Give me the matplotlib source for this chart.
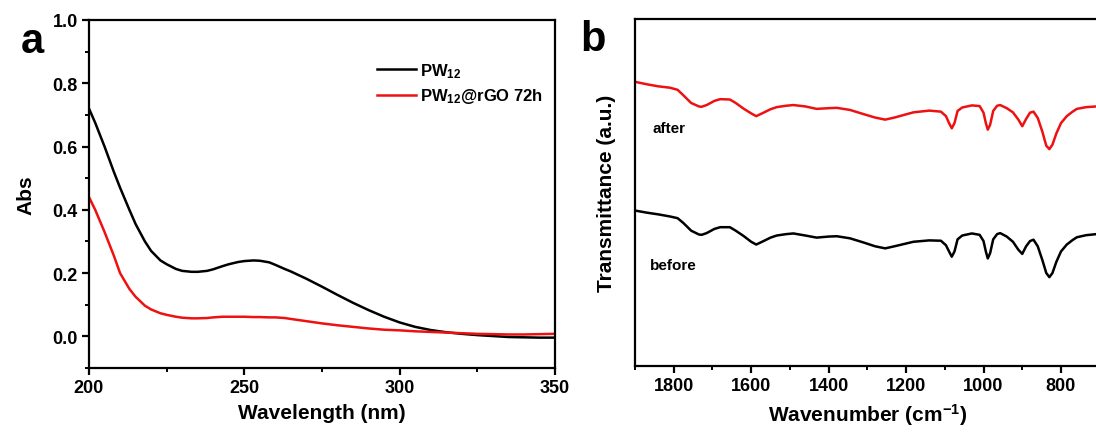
import matplotlib
matplotlib.use("Agg")
import matplotlib.pyplot as plt
from matplotlib.ticker import MultipleLocator

plt.rcParams['font.family'] = ['Liberation Sans', 'DejaVu Sans']
plt.rcParams['font.weight'] = 'bold'
plt.rcParams['mathtext.fontset'] = 'custom'
plt.rcParams['mathtext.rm'] = 'Liberation Sans:bold'
plt.rcParams['mathtext.bf'] = 'Liberation Sans:bold'
plt.rcParams['mathtext.it'] = 'Liberation Sans:bold'

# ---------- Panel a: UV-vis ----------
uv_wavelength = [200, 202, 205, 208, 210, 213, 215, 218, 220, 223, 225, 228, 230, 233, 235, 238,
                 240, 243, 245, 248, 250, 253, 255, 258, 260, 263, 265, 270, 275, 280, 285, 290,
                 295, 300, 305, 310, 315, 320, 325, 330, 335, 340, 345, 350]
abs_pw12 = [0.72, 0.675, 0.60, 0.52, 0.47, 0.40, 0.355, 0.30, 0.27, 0.24, 0.228, 0.213, 0.207,
            0.204, 0.204, 0.207, 0.212, 0.222, 0.228, 0.235, 0.238, 0.240, 0.239, 0.234, 0.226,
            0.213, 0.205, 0.182, 0.157, 0.131, 0.106, 0.083, 0.062, 0.044, 0.030, 0.020, 0.013,
            0.008, 0.004, 0.001, -0.002, -0.003, -0.004, -0.004]
abs_rgo = [0.44, 0.40, 0.33, 0.255, 0.20, 0.15, 0.125, 0.097, 0.085, 0.073, 0.068, 0.062, 0.059,
           0.057, 0.057, 0.058, 0.060, 0.062, 0.062, 0.062, 0.062, 0.061, 0.061, 0.060, 0.060,
           0.058, 0.055, 0.048, 0.041, 0.035, 0.030, 0.025, 0.021, 0.019, 0.016, 0.014, 0.012,
           0.010, 0.008, 0.007, 0.006, 0.006, 0.007, 0.008]
uv_labels = ['PW$_{12}$', 'PW$_{12}$@rGO 72h']

# ---------- Panel b: FTIR ----------
ir_after_wn = [1900, 1870, 1840, 1810, 1790, 1775, 1755, 1735, 1728, 1715, 1695, 1680, 1655, 1640,
               1620, 1600, 1587, 1570, 1550, 1534, 1510, 1491, 1460, 1431, 1400, 1379, 1345, 1310,
               1280, 1254, 1230, 1181, 1140, 1110, 1097, 1089, 1082, 1075, 1067, 1055, 1030, 1010,
               1000, 994, 989, 983, 975, 965, 957, 940, 924, 910, 900, 890, 880, 871, 860, 848,
               838, 830, 822, 812, 800, 785, 770, 759, 735, 709, 700]
ir_after_t = [81.9, 81.2, 80.6, 80.2, 79.6, 78.0, 75.8, 74.8, 74.7, 75.2, 76.4, 76.9, 76.8, 75.8,
              74.2, 72.8, 72.0, 72.9, 74.0, 74.6, 75.0, 75.2, 74.8, 74.1, 74.3, 74.4, 73.8, 72.6,
              71.6, 71.0, 71.6, 73.1, 73.6, 73.3, 72.0, 70.0, 68.5, 70.0, 73.5, 74.5, 75.1, 74.9,
              73.0, 70.0, 68.1, 69.5, 73.5, 75.0, 75.2, 74.3, 73.1, 71.0, 69.1, 71.2, 73.0, 73.3,
              71.5, 67.5, 63.5, 62.5, 63.8, 67.0, 70.0, 72.0, 73.3, 74.1, 74.6, 74.8, 74.8]
ir_before_wn = ir_after_wn
ir_before_t = [44.8, 44.2, 43.7, 43.1, 42.6, 41.2, 39.0, 37.9, 37.8, 38.3, 39.5, 40.0, 40.0, 39.0,
               37.5, 35.8, 35.0, 35.9, 37.0, 37.6, 38.0, 38.2, 37.6, 37.0, 37.3, 37.4, 36.8, 35.6,
               34.5, 33.9, 34.5, 35.8, 36.2, 36.1, 34.8, 33.0, 31.5, 33.0, 36.5, 37.6, 38.2, 37.8,
               36.0, 33.0, 31.0, 32.5, 36.5, 38.0, 38.3, 37.3, 35.8, 33.5, 32.3, 34.5, 36.0, 36.4,
               34.5, 30.5, 26.8, 25.6, 26.8, 30.0, 33.0, 35.0, 36.3, 37.1, 37.7, 38.0, 38.0]
ir_labels = ['after', 'before']

fig = plt.figure(figsize=(10.96, 4.35), dpi=100)

def style_axes(ax):
    for s in ax.spines.values():
        s.set_linewidth(1.6)
    ax.tick_params(which='major', direction='out', length=5, width=1.6, labelsize=13, pad=3)
    ax.tick_params(which='minor', direction='out', length=3, width=1.4)
    ax.tick_params(top=False, right=False, which='both')
    for lab in ax.get_xticklabels() + ax.get_yticklabels():
        lab.set_fontweight('bold')

# Panel a
axa = fig.add_axes([89/1096, 1-369/435, 466/1096, 348/435])
axa.plot(uv_wavelength, abs_pw12, color='black', lw=1.8, label=uv_labels[0])
axa.plot(uv_wavelength, abs_rgo, color='#ee1111', lw=1.8, label=uv_labels[1])
axa.set_xlim(200, 350)
axa.set_ylim(-0.1, 1.0)
axa.xaxis.set_major_locator(MultipleLocator(50))
axa.xaxis.set_minor_locator(MultipleLocator(25))
axa.yaxis.set_major_locator(MultipleLocator(0.2))
axa.yaxis.set_minor_locator(MultipleLocator(0.1))
axa.yaxis.set_major_formatter(matplotlib.ticker.FormatStrFormatter('%.1f'))
style_axes(axa)
axa.set_xlabel('Wavelength (nm)', fontsize=15, fontweight='bold', labelpad=5)
axa.set_ylabel('Abs', fontsize=15, fontweight='bold', labelpad=12)
leg = axa.legend(loc='upper left', bbox_to_anchor=((377-89)/466, 1-(62-21)/348), frameon=False,
                 fontsize=12, handlelength=2.35, handletextpad=0.2, labelspacing=0.4,
                 borderaxespad=0, borderpad=0)
fig.text(32/1096, 1-42/435, 'a', fontsize=30, fontweight='bold', ha='center', va='center')

# Panel b
axb = fig.add_axes([635/1096, 1-367/435, 464.7/1096, 347/435])
axb.plot(ir_after_wn, ir_after_t, color='#ee1111', lw=1.8)
axb.plot(ir_before_wn, ir_before_t, color='black', lw=1.8)
axb.set_xlim(1900, 700)
axb.set_ylim(0, 100)
axb.xaxis.set_major_locator(MultipleLocator(200))
axb.xaxis.set_minor_locator(MultipleLocator(100))
axb.set_yticks([])
style_axes(axb)
axb.set_xlabel('Wavenumber (cm$^{-1}$)', fontsize=15, fontweight='bold', labelpad=5)
axb.set_ylabel('Transmittance (a.u.)', fontsize=15, fontweight='bold', labelpad=14)
axb.text(1855, 68.5, ir_labels[0], fontsize=11, fontweight='bold', ha='left', va='center')
axb.text(1862, 29, ir_labels[1], fontsize=11, fontweight='bold', ha='left', va='center')
fig.text(593/1096, 1-40/435, 'b', fontsize=30, fontweight='bold', ha='center', va='center')

fig.savefig('out.png', dpi=100)
